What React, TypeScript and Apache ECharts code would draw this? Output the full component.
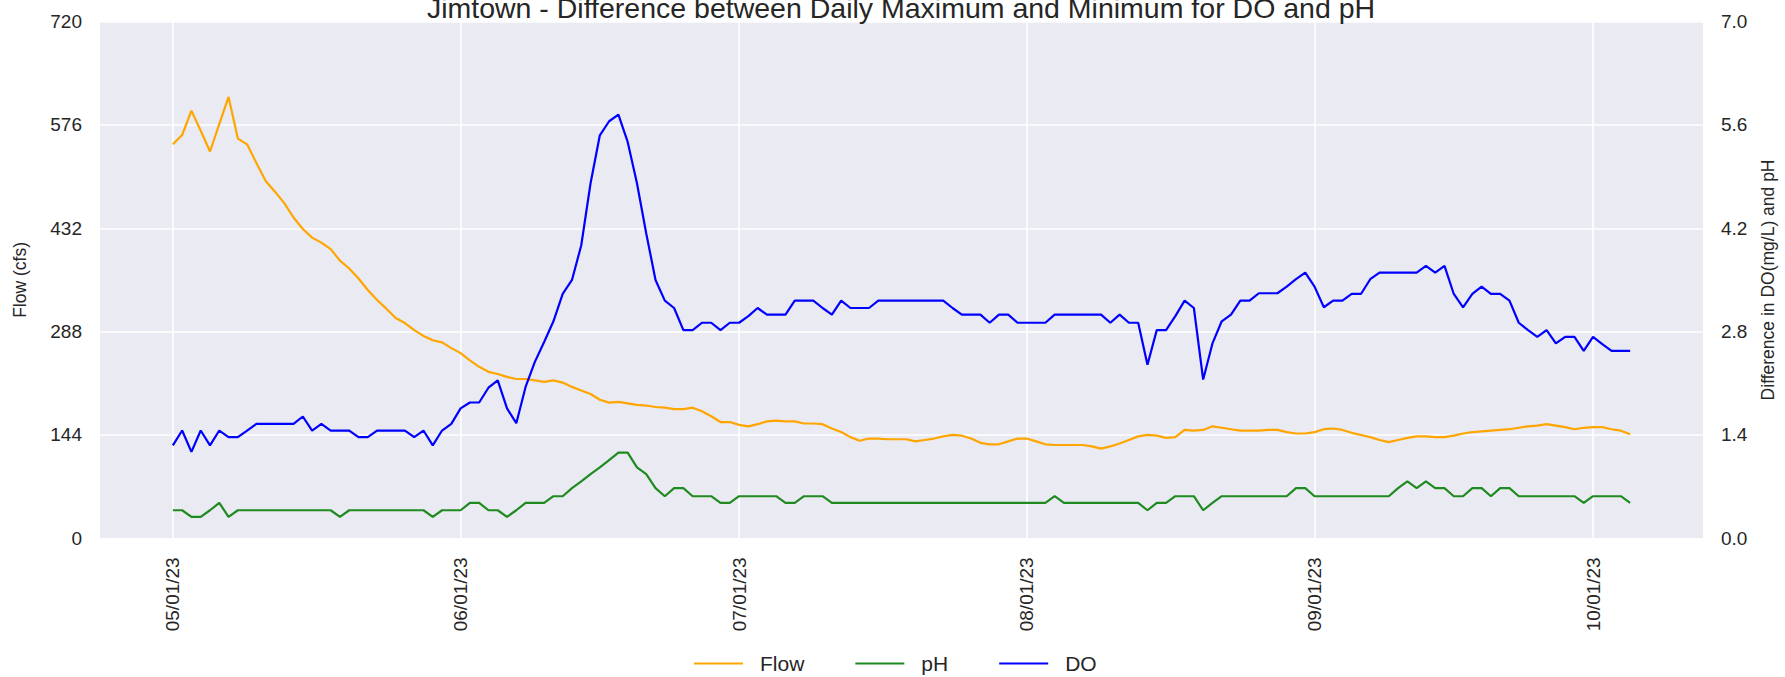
import React, { useEffect, useRef } from "react";
import * as echarts from "echarts";

const titleText = "Jimtown - Difference between Daily Maximum and Minimum for DO and pH";
const startDate = "2023-05-01";
const monthTickDates = ["2023-05-01", "2023-06-01", "2023-07-01", "2023-08-01", "2023-09-01", "2023-10-01"];
const leftTicks = [0, 144, 288, 432, 576, 720];
const rightTicks = [0, 1.4, 2.8, 4.2, 5.6, 7.0];

const flow = [
  549, 562, 596, 568, 539, 577, 615, 557, 549, 523,
  498, 483, 467, 447, 431, 419, 412, 403, 387, 376,
  362, 346, 332, 320, 307, 300, 290, 282, 276, 273,
  265, 258, 248, 239, 232, 229, 225, 222, 222, 220,
  218, 220, 217, 211, 206, 201, 193, 189, 190, 188,
  186, 185, 183, 182, 180, 180, 182, 177, 170, 162,
  162, 158, 156, 159, 163, 164, 163, 163, 160, 160,
  159, 153, 148, 141, 136, 139, 139, 138, 138, 138,
  135, 137, 139, 142, 144, 143, 139, 133, 131, 131,
  135, 139, 139, 135, 131, 130, 130, 130, 130, 128,
  125, 128, 132, 137, 142, 144, 143, 140, 141, 151,
  150, 151, 156, 154, 152, 150, 150, 150, 151, 151,
  148, 146, 146, 148, 152, 153, 151, 147, 144, 141,
  137, 134, 137, 140, 142, 142, 141, 141, 143, 146,
  148, 149, 150, 151, 152, 154, 156, 157, 159, 157,
  155, 152, 154, 155, 155, 152, 150, 145,
];

const ph = [
  0.38, 0.38, 0.29, 0.29, 0.38, 0.48, 0.29, 0.38, 0.38, 0.38,
  0.38, 0.38, 0.38, 0.38, 0.38, 0.38, 0.38, 0.38, 0.29, 0.38,
  0.38, 0.38, 0.38, 0.38, 0.38, 0.38, 0.38, 0.38, 0.29, 0.38,
  0.38, 0.38, 0.48, 0.48, 0.38, 0.38, 0.29, 0.38, 0.48, 0.48,
  0.48, 0.57, 0.57, 0.68, 0.77, 0.87, 0.96, 1.06, 1.16, 1.16,
  0.96, 0.87, 0.68, 0.57, 0.68, 0.68, 0.57, 0.57, 0.57, 0.48,
  0.48, 0.57, 0.57, 0.57, 0.57, 0.57, 0.48, 0.48, 0.57, 0.57,
  0.57, 0.48, 0.48, 0.48, 0.48, 0.48, 0.48, 0.48, 0.48, 0.48,
  0.48, 0.48, 0.48, 0.48, 0.48, 0.48, 0.48, 0.48, 0.48, 0.48,
  0.48, 0.48, 0.48, 0.48, 0.48, 0.57, 0.48, 0.48, 0.48, 0.48,
  0.48, 0.48, 0.48, 0.48, 0.48, 0.38, 0.48, 0.48, 0.57, 0.57,
  0.57, 0.38, 0.48, 0.57, 0.57, 0.57, 0.57, 0.57, 0.57, 0.57,
  0.57, 0.68, 0.68, 0.57, 0.57, 0.57, 0.57, 0.57, 0.57, 0.57,
  0.57, 0.57, 0.68, 0.77, 0.68, 0.77, 0.68, 0.68, 0.57, 0.57,
  0.68, 0.68, 0.57, 0.68, 0.68, 0.57, 0.57, 0.57, 0.57, 0.57,
  0.57, 0.57, 0.48, 0.57, 0.57, 0.57, 0.57, 0.48,
];

const doDiff = [
  1.26, 1.46, 1.17, 1.46, 1.26, 1.46, 1.37, 1.37, 1.46, 1.55,
  1.55, 1.55, 1.55, 1.55, 1.65, 1.46, 1.55, 1.46, 1.46, 1.46,
  1.37, 1.37, 1.46, 1.46, 1.46, 1.46, 1.37, 1.46, 1.26, 1.46,
  1.55, 1.76, 1.84, 1.84, 2.04, 2.14, 1.76, 1.56, 2.05, 2.39,
  2.66, 2.94, 3.31, 3.50, 3.97, 4.81, 5.46, 5.65, 5.74, 5.37,
  4.81, 4.13, 3.50, 3.22, 3.12, 2.82, 2.82, 2.92, 2.92, 2.82,
  2.92, 2.92, 3.01, 3.12, 3.03, 3.03, 3.03, 3.22, 3.22, 3.22,
  3.12, 3.03, 3.22, 3.12, 3.12, 3.12, 3.22, 3.22, 3.22, 3.22,
  3.22, 3.22, 3.22, 3.22, 3.12, 3.03, 3.03, 3.03, 2.92, 3.03,
  3.03, 2.92, 2.92, 2.92, 2.92, 3.03, 3.03, 3.03, 3.03, 3.03,
  3.03, 2.92, 3.03, 2.92, 2.92, 2.35, 2.82, 2.82, 3.01, 3.22,
  3.12, 2.15, 2.64, 2.94, 3.03, 3.22, 3.22, 3.32, 3.32, 3.32,
  3.41, 3.51, 3.60, 3.41, 3.13, 3.22, 3.22, 3.31, 3.31, 3.51,
  3.60, 3.60, 3.60, 3.60, 3.60, 3.69, 3.60, 3.69, 3.31, 3.13,
  3.31, 3.41, 3.31, 3.31, 3.22, 2.92, 2.82, 2.73, 2.82, 2.64,
  2.73, 2.73, 2.54, 2.73, 2.63, 2.54, 2.54, 2.54,
];

const DAY = 86400000;
const parseUTC = (s: string) => {
  const [y, m, d] = s.split("-").map(Number);
  return Date.UTC(y, m - 1, d);
};
const start = parseUTC(startDate);
const dates = flow.map((_, i) => start + i * DAY);
const monthTicks = monthTickDates.map(parseUTC);
const span = dates[dates.length - 1] - dates[0];
const margin = span * 0.05;

const pad = (n: number) => (n < 10 ? "0" + n : String(n));
const fmtDate = (v: number) => {
  const d = new Date(v);
  return `${pad(d.getUTCMonth() + 1)}/${pad(d.getUTCDate())}/${String(d.getUTCFullYear()).slice(2)}`;
};

const TXT = "#262626";
const FONT = "'Liberation Sans', Arial, sans-serif";

export default function App() {
  const ref = useRef<HTMLDivElement>(null);
  useEffect(() => {
    if (!ref.current) return;
    const chart = echarts.init(ref.current, null, { renderer: "svg" });
    chart.setOption({
      animation: false,
      backgroundColor: "#ffffff",
      textStyle: { fontFamily: FONT },
      title: {
        text: titleText,
        left: 896,
        top: -12,
        textAlign: "center",
        textStyle: { fontSize: 28.5, fontWeight: "normal", color: TXT, fontFamily: FONT },
      },
      grid: {
        left: 100,
        right: 79,
        top: 21.6,
        bottom: 138.7,
        show: true,
        backgroundColor: "#EAEAF2",
        borderWidth: 0,
        containLabel: false,
      },
      legend: {
        data: ["Flow", "pH", "DO"],
        left: 689,
        top: 648,
        icon: "rect",
        itemWidth: 49,
        itemHeight: 2,
        itemGap: 51,
        textStyle: { fontSize: 21, color: TXT, fontFamily: FONT, padding: [0, 0, 0, 12] },
      },
      xAxis: {
        type: "value",
        min: dates[0] - margin,
        max: dates[dates.length - 1] + margin,
        axisLine: { show: false },
        axisTick: { show: false, customValues: monthTicks },
        axisLabel: {
          customValues: monthTicks,
          rotate: 90,
          margin: 19,
          fontSize: 19,
          color: TXT,
          fontFamily: FONT,
          formatter: (v: number) => fmtDate(v),
        },
        splitLine: { show: true, lineStyle: { color: "#ffffff", width: 1.6 } },
      },
      yAxis: [
        {
          type: "value",
          min: leftTicks[0],
          max: leftTicks[leftTicks.length - 1],
          interval: leftTicks[1] - leftTicks[0],
          name: "Flow (cfs)",
          nameLocation: "middle",
          nameRotate: 90,
          nameGap: 71,
          nameTextStyle: { fontSize: 17.5, color: TXT, fontFamily: FONT },
          axisLine: { show: false },
          axisTick: { show: false },
          axisLabel: { fontSize: 19, color: TXT, margin: 18, fontFamily: FONT },
          splitLine: { show: true, lineStyle: { color: "#ffffff", width: 1.6 } },
        },
        {
          type: "value",
          position: "right",
          min: rightTicks[0],
          max: rightTicks[rightTicks.length - 1],
          interval: rightTicks[1] - rightTicks[0],
          name: "Difference in DO(mg/L) and pH",
          nameLocation: "middle",
          nameRotate: 90,
          nameGap: 56,
          nameTextStyle: { fontSize: 17.5, color: TXT, fontFamily: FONT },
          axisLine: { show: false },
          axisTick: { show: false },
          axisLabel: {
            fontSize: 19,
            color: TXT,
            margin: 18,
            fontFamily: FONT,
            formatter: (v: number) => v.toFixed(1),
          },
          splitLine: { show: false },
        },
      ],
      series: [
        {
          name: "Flow",
          type: "line",
          yAxisIndex: 0,
          showSymbol: false,
          symbol: "none",
          color: "#FFA500",
          lineStyle: { width: 2.2, color: "#FFA500" },
          data: dates.map((t, i) => [t, flow[i]]),
        },
        {
          name: "pH",
          type: "line",
          yAxisIndex: 1,
          showSymbol: false,
          symbol: "none",
          color: "#1f8a1f",
          lineStyle: { width: 2.2, color: "#1f8a1f" },
          data: dates.map((t, i) => [t, ph[i]]),
        },
        {
          name: "DO",
          type: "line",
          yAxisIndex: 1,
          showSymbol: false,
          symbol: "none",
          color: "#0000FF",
          lineStyle: { width: 2.2, color: "#0000FF" },
          data: dates.map((t, i) => [t, doDiff[i]]),
        },
      ],
    });
    return () => chart.dispose();
  }, []);
  return (
    <div
      ref={ref}
      style={{ position: "fixed", left: 0, top: 0, width: 1785, height: 677 }}
    />
  );
}
